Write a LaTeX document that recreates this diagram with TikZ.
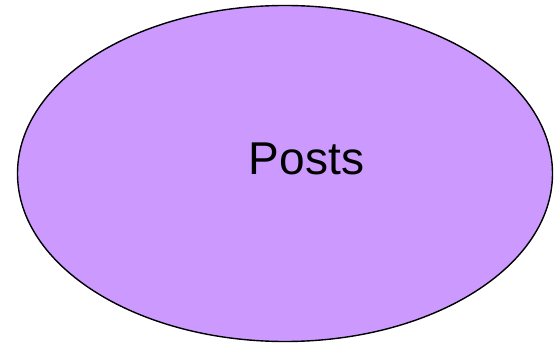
\documentclass[tikz,border=0pt]{standalone}
\usepackage{fontspec}
\setmainfont{Liberation Sans}
\usetikzlibrary{shapes.geometric,positioning}
\definecolor{postpurple}{HTML}{CC99FF}
\begin{document}
\begin{tikzpicture}[x=1pt, y=1pt,
                entity/.style={ellipse, draw, line width=1.4pt, fill=postpurple, inner sep=0pt, minimum width=535pt, minimum height=336pt},
                title/.style={font=\fontsize{46}{55}\selectfont, inner sep=0pt}
            ]
            \useasboundingbox (0,0) rectangle (554,343);

            % Posts entity
            \node[entity] (posts) at (285, 169.5) {};
            \node[title] (poststext) at (306.5, 184) {Posts};

        \end{tikzpicture}
\end{document}
